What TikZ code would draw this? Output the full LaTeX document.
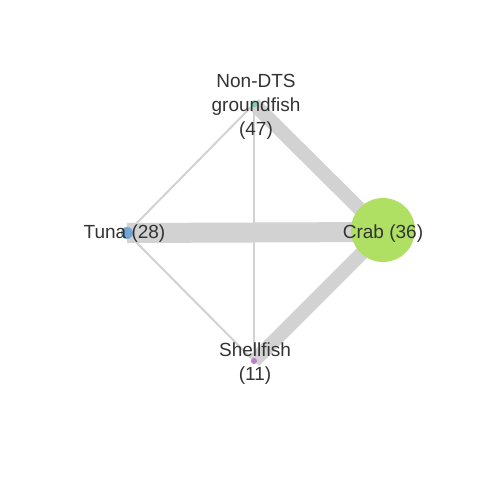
\documentclass[tikz,border=0pt]{standalone}
\usepackage{fontspec}
\setmainfont{Liberation Sans}
\definecolor{edgegray}{HTML}{D2D2D2}
\definecolor{txt}{HTML}{333333}
\definecolor{cndts}{HTML}{7FCFB0}
\definecolor{ctuna}{HTML}{72A7D3}
\definecolor{ccrab}{HTML}{AFE063}
\definecolor{cshell}{HTML}{B87EC6}
\begin{document}
\begin{tikzpicture}[x=1pt,y=1pt,
  vert/.style={circle,inner sep=0pt,draw=none},
  lab/.style={text=txt,align=center,inner sep=0pt,font=\fontsize{19}{24}\selectfont},
  edge/.style={draw=edgegray}]
\fill[white] (0,0) rectangle (480,480);
\useasboundingbox (0,0) rectangle (480,480);
% vertex positions
\coordinate (pndts) at (254,376);
\coordinate (ptuna) at (127,247);
\coordinate (pcrab) at (383,248);
\coordinate (pshell) at (254,119);
% edges
\draw[edge,line width=1.3pt] (pndts) -- (pshell);
\draw[edge,line width=2pt] (pndts) -- (ptuna);
\draw[edge,line width=2pt] (ptuna) -- (pshell);
\draw[edge,line width=14pt] (pndts) -- (pcrab);
\draw[edge,line width=14pt] (pshell) -- (pcrab);
\draw[edge,line width=20pt] (ptuna) -- (pcrab);
% vertices
\node[vert,fill=cndts,minimum size=7pt] (ndts) at (pndts) {};
\node[vert,fill=ctuna,minimum size=12pt] (tuna) at (ptuna) {};
\node[vert,fill=ccrab,minimum size=64pt] (crab) at (383,250) {};
\node[vert,fill=cshell,minimum size=6pt] (shell) at (pshell) {};
% labels
\node[lab] (lndts) at (256,373) {Non-DTS\\groundfish\\(47)};
\node[lab] (ltuna) at (124.5,246) {Tuna (28)};
\node[lab] (lcrab) at (383,246) {Crab (36)};
\node[lab] (lshell) at (255,116) {Shellfish\\(11)};
\end{tikzpicture}
\end{document}
